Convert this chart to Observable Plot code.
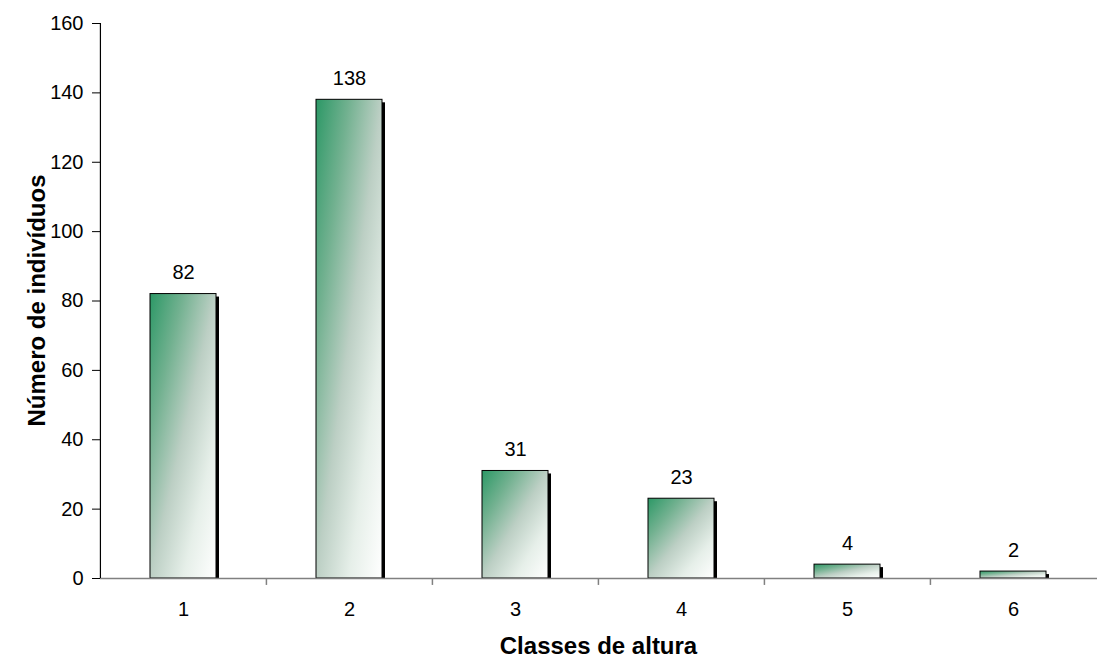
<!DOCTYPE html>
<html>
<head>
<meta charset="utf-8">
<script src="https://cdn.jsdelivr.net/npm/d3@7"></script>
<script src="https://cdn.jsdelivr.net/npm/@observablehq/plot@0.6"></script>
<style>
  html, body { margin: 0; padding: 0; background: #fff; }
  #chart { width: 1097px; height: 658px; }
</style>
</head>
<body>
<div id="chart"></div>
<script>
const categories = ["1", "2", "3", "4", "5", "6"];
const values = [82, 138, 31, 23, 4, 2];
const yTicks = [0, 20, 40, 60, 80, 100, 120, 140, 160];

const data = categories.map((c, i) => ({cat: c, n: values[i]}));

const W = 1097, H = 658;
const mL = 100, mR = 0, mT = 23, mB = 80;
const step = (W - mL - mR) / categories.length;
const font = "'Liberation Sans', Arial, sans-serif";

const chart = Plot.plot({
  width: W,
  height: H,
  marginLeft: mL,
  marginRight: mR,
  marginTop: mT,
  marginBottom: mB,
  style: {fontFamily: font, fontSize: "20px", color: "#000", background: "#fff"},
  x: {domain: categories, paddingInner: 0.6, paddingOuter: 0.3},
  y: {domain: [0, 160]},
  marks: [
    // shadows
    Plot.barY(data, {x: "cat", y: "n", fill: "#000", dx: 3, dy: 3, insetBottom: 3}),
    // bars
    Plot.barY(data, {x: "cat", y: "n", fill: "url(#barGrad)", stroke: "#000", strokeWidth: 1}),
    // value labels
    Plot.text(data, {x: "cat", y: "n", text: d => String(d.n), dy: -21, fontSize: 20, fill: "#000"}),
    // x baseline
    Plot.ruleY([0], {stroke: "#808080", strokeWidth: 1.5}),
    // x ticks between categories
    Plot.ruleX(categories.slice(1), {x: d => d, dx: -step / 2, y1: 0, y2: -2, stroke: "#808080", strokeWidth: 1.5}),
    // y axis
    Plot.axisY({ticks: yTicks, tickSize: 8, tickPadding: 9, label: null, fontSize: 20}),
    Plot.ruleX([0], {x: () => categories[0], dx: -step / 2, stroke: "#000", strokeWidth: 1.2}),
    // x axis labels
    Plot.axisX({tickSize: 0, tickPadding: 23, label: null, fontSize: 20})
  ]
});

const svg = chart;
const ns = "http://www.w3.org/2000/svg";
const defs = document.createElementNS(ns, "defs");
defs.innerHTML = `
  <linearGradient id="barGrad" x1="0" y1="0" x2="1" y2="1">
    <stop offset="0" stop-color="#2c9866"/>
    <stop offset="0.25" stop-color="#72b190"/>
    <stop offset="0.5" stop-color="#bccfc4"/>
    <stop offset="0.75" stop-color="#e6efe9"/>
    <stop offset="1" stop-color="#ffffff"/>
  </linearGradient>`;
svg.insertBefore(defs, svg.firstChild);

// axis titles as SVG text
const yTitle = document.createElementNS(ns, "text");
yTitle.setAttribute("transform", `translate(45,${(mT + H - mB) / 2}) rotate(-90)`);
yTitle.setAttribute("text-anchor", "middle");
yTitle.setAttribute("font-weight", "bold");
yTitle.setAttribute("font-size", "24");
yTitle.setAttribute("font-family", font);
yTitle.textContent = "Número de indivíduos";
svg.appendChild(yTitle);

const xTitle = document.createElementNS(ns, "text");
xTitle.setAttribute("x", (mL + W - mR) / 2);
xTitle.setAttribute("y", 654);
xTitle.setAttribute("text-anchor", "middle");
xTitle.setAttribute("font-weight", "bold");
xTitle.setAttribute("font-size", "24");
xTitle.setAttribute("font-family", font);
xTitle.textContent = "Classes de altura";
svg.appendChild(xTitle);

document.getElementById("chart").appendChild(chart);
</script>
</body>
</html>
